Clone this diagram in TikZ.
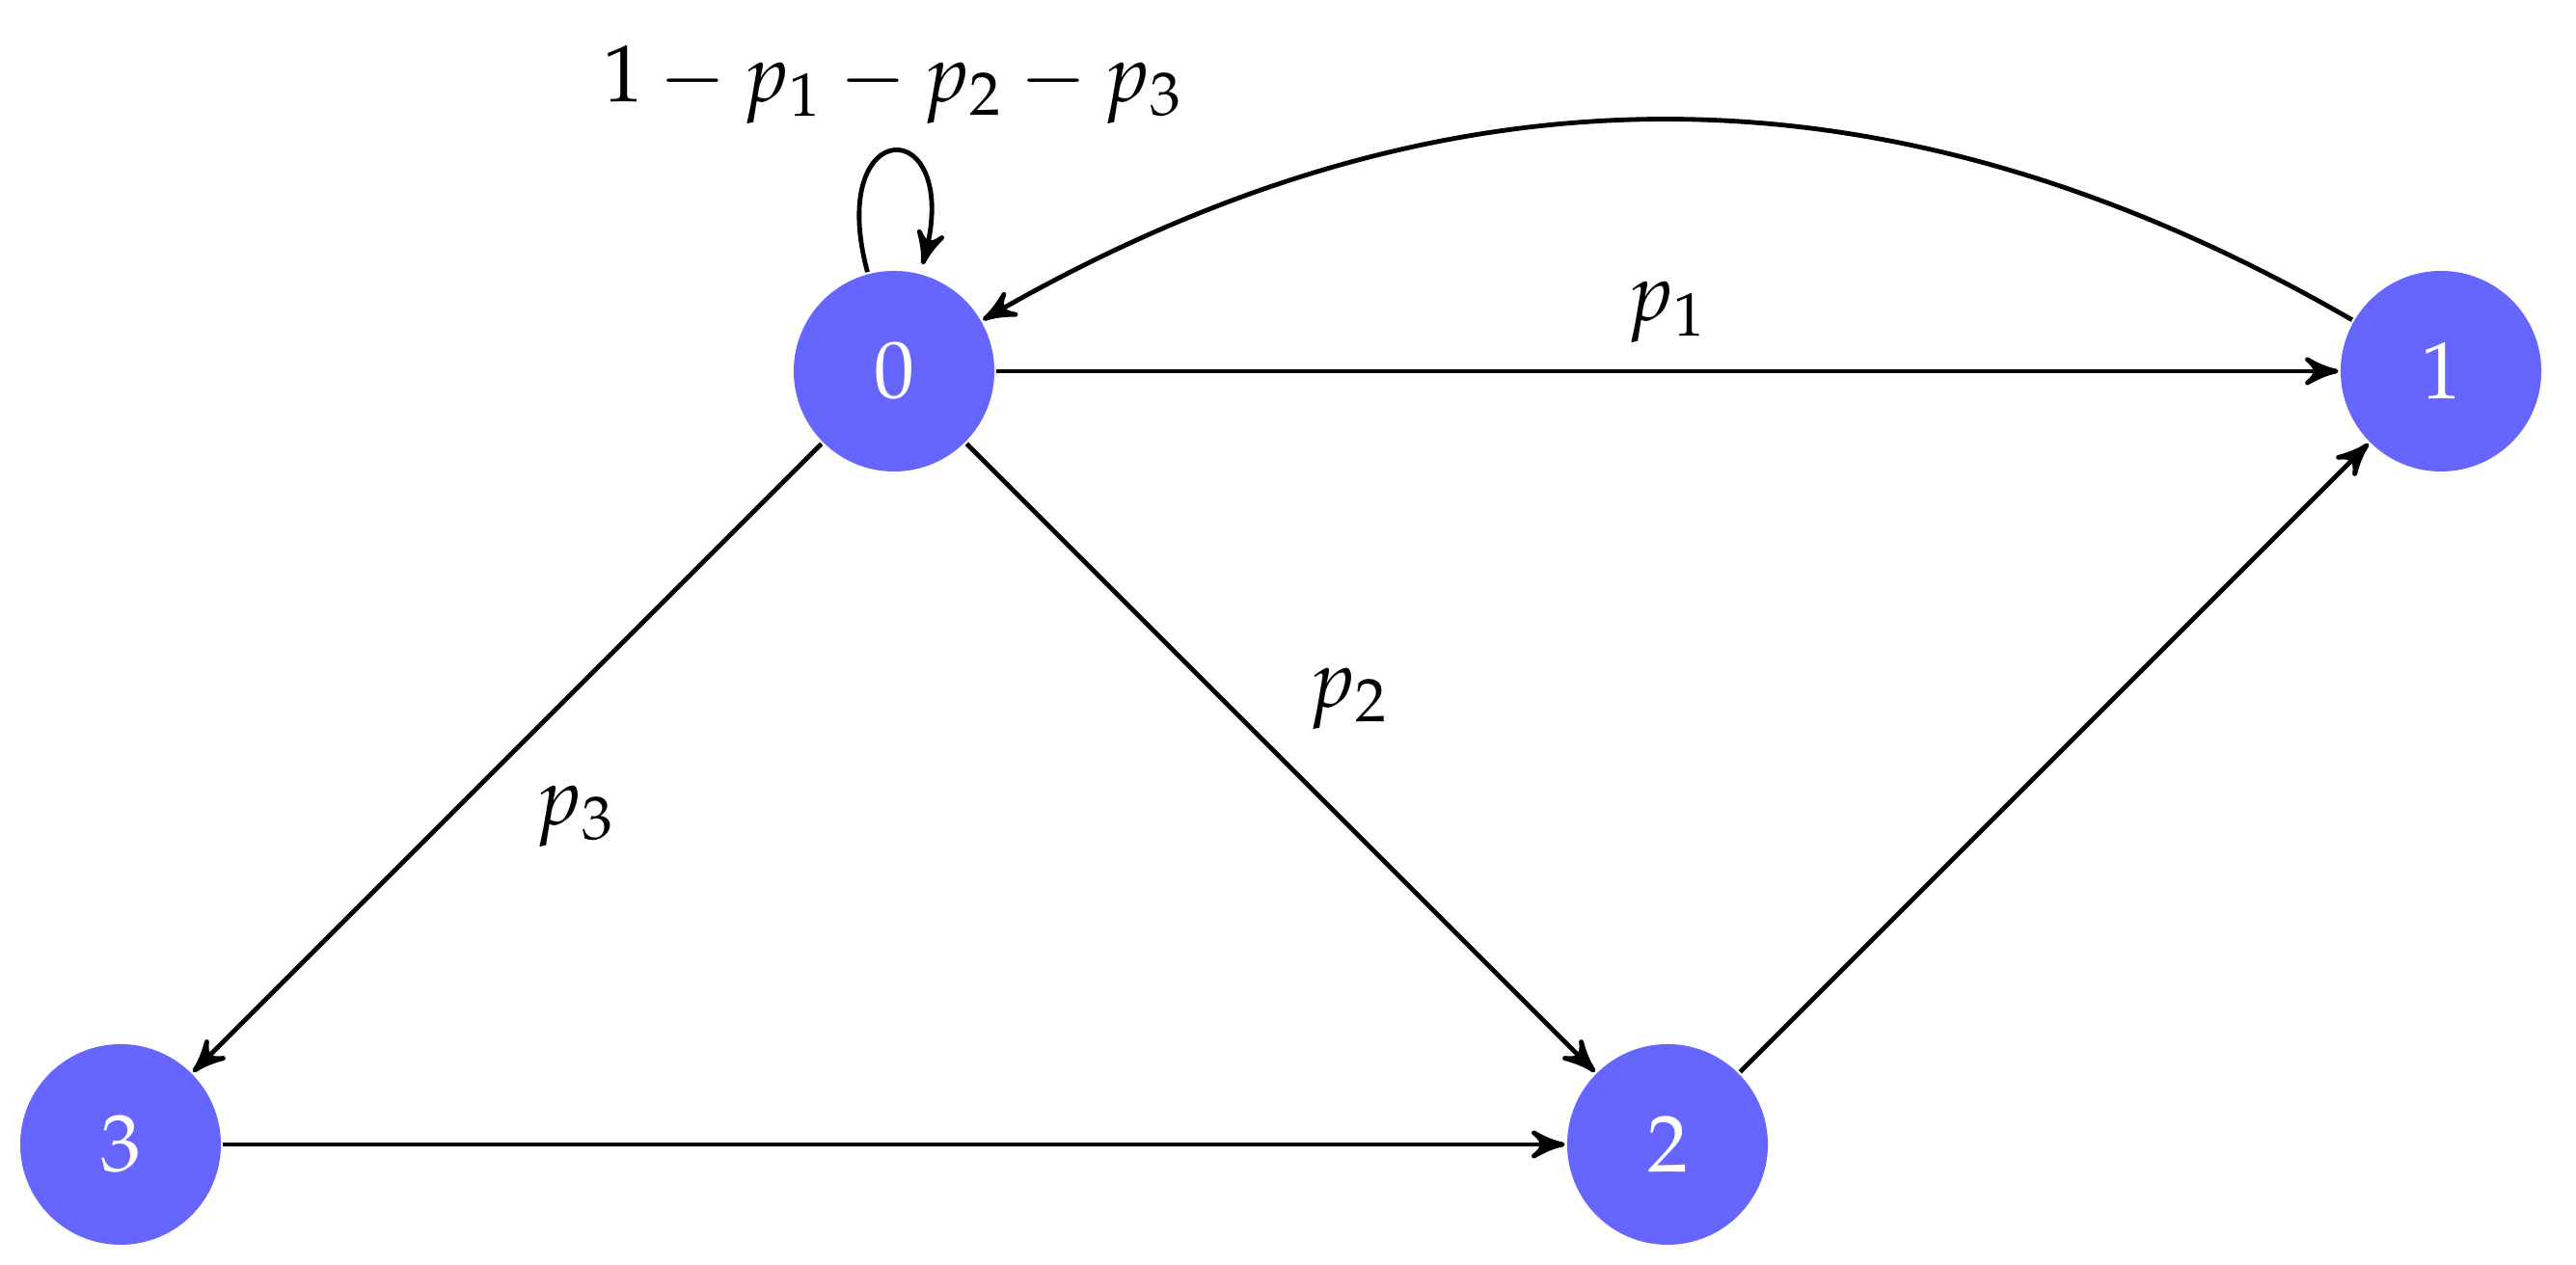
\documentclass[tikz,border=0pt]{standalone}
\usepackage{mathpazo}
\usetikzlibrary{arrows}
\begin{document}
\begin{tikzpicture}[>=stealth', semithick, auto,
  every node/.style={font=\fontsize{10.4}{12.5}\selectfont},
  state/.style={circle, fill=blue!60, draw=none, text=white, minimum size=0.908cm, inner sep=0pt}]
\useasboundingbox (-0.5455,-0.5455) rectangle (11.111,5.180);
\node[state] (n3) at (0,0) {$3$};
\node[state] (n2) at (7,0) {$2$};
\node[state] (n0) at (3.5,3.5) {$0$};
\node[state] (n1) at (10.5,3.5) {$1$};
\path[->] (n0) edge[loop above] node {$1-p_1-p_2-p_3$} (n0)
              edge node {$p_1$} (n1)
              edge node {$p_2$} (n2)
              edge node {$p_3$} (n3)
          (n1) edge[bend right] (n0)
          (n2) edge (n1)
          (n3) edge (n2);
\end{tikzpicture}
\end{document}
